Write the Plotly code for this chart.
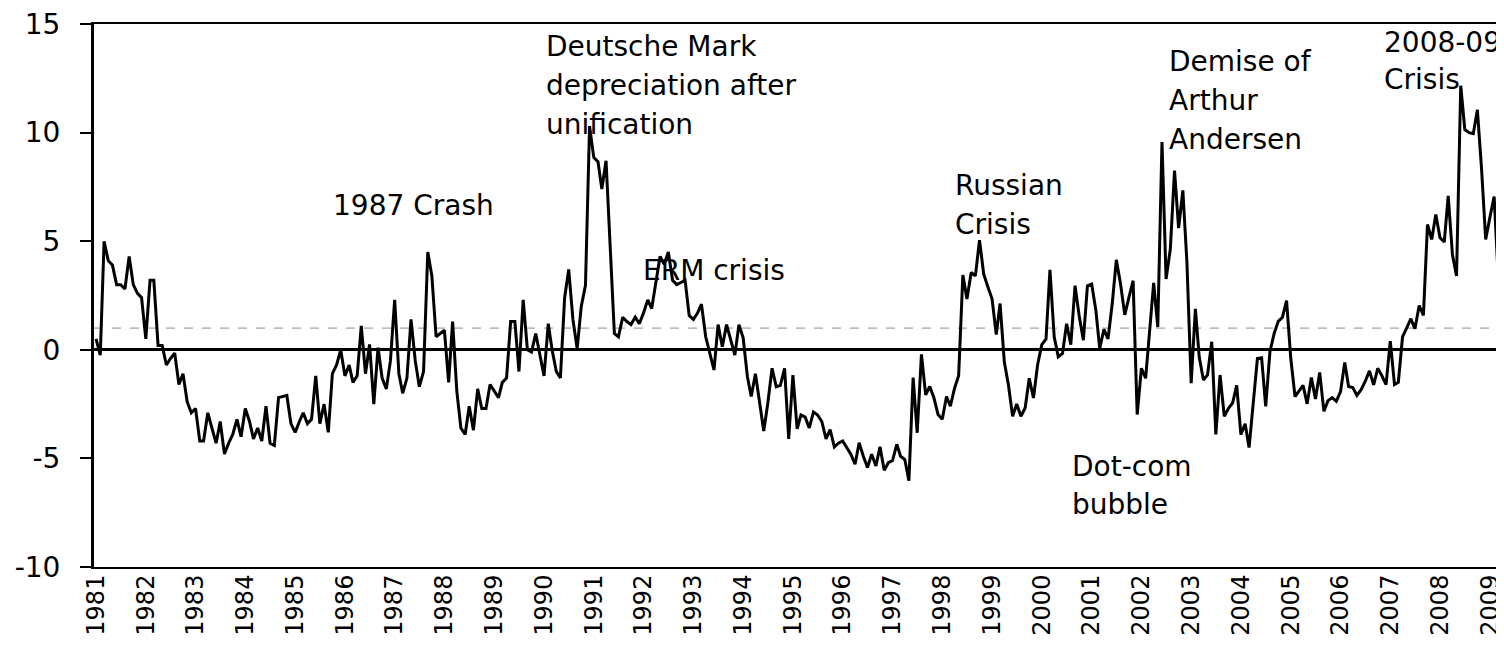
import pandas as pd
import plotly.graph_objects as go

# Monthly index values (Jan 1981 onwards)
values_1981_1985 = [0.5, -0.25, 5.0, 4.1, 3.9, 3.0, 3.0, 2.8, 4.3, 3.0, 2.6, 2.4,
                    0.5, 3.2, 3.2, 0.2, 0.2, -0.7, -0.4, -0.15, -1.6, -1.1, -2.4, -2.9,
                    -2.7, -4.2, -4.2, -2.9, -3.6, -4.3, -3.3, -4.8, -4.3, -3.9, -3.2, -4.0,
                    -2.7, -3.3, -4.1, -3.6, -4.2, -2.6, -4.3, -4.4, -2.2, -2.15, -2.1, -3.4,
                    -3.8, -3.3, -2.9, -3.4, -3.2, -1.2, -3.4, -2.5, -3.8, -1.1, -0.7, 0.0]
values_1986_1990 = [-1.2, -0.7, -1.5, -1.2, 1.1, -1.1, 0.25, -2.5, 0.1, -1.3, -1.8, -0.5,
                    2.3, -1.1, -2.0, -1.3, 1.4, -0.5, -1.7, -1.0, 4.5, 3.4, 0.6, 0.75,
                    0.9, -1.5, 1.3, -1.9, -3.6, -3.9, -2.6, -3.7, -1.8, -2.7, -2.7, -1.6,
                    -1.9, -2.2, -1.5, -1.3, 1.3, 1.3, -1.0, 2.3, 0.0, -0.1, 0.75, -0.15,
                    -1.2, 1.2, 0.0, -1.0, -1.3, 2.4, 3.7, 1.4, 0.05]
values_1990_1994 = [2.0, 2.97, 10.3, 8.85, 8.66, 7.4, 8.7, 4.7, 0.75, 0.6, 1.5, 1.3,
                    1.16, 1.5, 1.2, 1.7, 2.3, 1.9, 3.1, 4.3, 3.94, 4.5, 3.2, 3.0,
                    3.1, 3.2, 1.58, 1.4, 1.7, 2.1, 0.6, -0.1, -0.93, 1.16, 0.14, 1.16,
                    0.5, -0.24, 1.16, 0.55, -1.23, -2.15, -1.1, -2.45, -3.74, -2.45, -0.85, -1.7,
                    -1.64]
values_1994_1998 = [-0.85, -4.1, -1.16, -3.64, -3.0, -3.1, -3.6, -2.86, -3.0, -3.3, -4.1, -3.67,
                    -4.47, -4.3, -4.2, -4.5, -4.81, -5.27, -4.28, -4.9, -5.42, -4.81, -5.35, -4.47,
                    -5.55, -5.2, -5.1, -4.35, -4.9, -5.05, -6.03, -1.28, -3.82, -0.21, -2.07, -1.69,
                    -2.22, -2.98, -3.2, -2.15, -2.6, -1.77, -1.19, 3.44, 2.34, 3.56, 3.4]
values_1998_2002 = [5.05, 3.48, 2.9, 2.35, 0.7, 2.13, -0.55, -1.61, -3.06, -2.5, -3.06, -2.68,
                    -1.31, -2.22, -0.7, 0.24, 0.49, 3.68, 0.6, -0.32, -0.17, 1.2, 0.24, 2.95,
                    1.58, 0.44, 2.95, 3.03, 1.81, 0.06, 0.94, 0.5, 2.13, 4.14, 3.03, 1.61,
                    2.4, 3.18, -2.98, -0.85, -1.31, 0.9, 3.08]
values_2002_2006 = [1.05, 9.57, 3.26, 4.63, 8.25, 5.6, 7.34, 4.02, -1.54, 1.89, -0.32, -1.39,
                    -1.16, 0.37, -3.9, -1.16, -3.06, -2.7, -2.45, -1.64, -3.9, -3.41, -4.5, -2.45,
                    -0.4, -0.37, -2.6, -0.09, 0.75, 1.31, 1.5, 2.27, -0.4, -2.15, -1.92, -1.64,
                    -2.49, -1.28, -2.26, -1.04, -2.83, -2.34, -2.2, -2.37, -1.92, -0.58, -1.69, -1.74,
                    -2.1, -1.84, -1.46, -0.97, -1.61]
values_2006_2009 = [-0.85, -1.2, -1.6, 0.4, -1.6, -1.5, 0.6, 1.0, 1.43, 0.97, 2.04, 1.58,
                    5.77, 5.08, 6.23, 5.16, 4.96, 7.09, 4.39, 3.4, 12.16, 10.14, 10.0, 9.95,
                    11.05, 8.3, 5.08, 6.1, 7.06, 3.56]

series_start = "1981-01-01"
x_range = ["1980-12-17", "2009-03-16"]
threshold_level = 1.0

years = list(range(1981, 2010))
year_labels = [str(y) for y in years]
y_tick_values = [-10, -5, 0, 5, 10, 15]
y_tick_labels = ["-10", "-5", "0", "5", "10", "15"]

# Event labels (one entry per text line) and their paper positions
event_lines = ["1987 Crash",
               "Deutsche Mark", "depreciation after", "unification",
               "ERM crisis",
               "Russian", "Crisis",
               "Demise of", "Arthur", "Andersen",
               "Dot-com", "bubble",
               "2008-09", "Crisis"]
event_x = [0.1688,
           0.3199, 0.3199, 0.3199,
           0.3887,
           0.6106, 0.6106,
           0.7631, 0.7631, 0.7631,
           0.6943, 0.6943,
           0.9163, 0.9163]
event_y = [0.6654,
           0.958, 0.8867, 0.8154,
           0.5466,
           0.702, 0.6307,
           0.9305, 0.8592, 0.7879,
           0.1846, 0.1152,
           0.9653, 0.8976]

values = (values_1981_1985 + values_1986_1990 + values_1990_1994 + values_1994_1998
          + values_1998_2002 + values_2002_2006 + values_2006_2009)
dates = pd.date_range(series_start, periods=len(values), freq="MS")

FONT = "DejaVu Sans"

fig = go.Figure()
fig.add_trace(go.Scatter(x=dates, y=values, mode="lines",
                         line=dict(color="black", width=3),
                         hoverinfo="skip"))

fig.add_shape(type="line", xref="paper", x0=0, x1=1, yref="y",
              y0=threshold_level, y1=threshold_level,
              line=dict(color="#8c8c8c", width=1, dash="dash"), layer="below")

for txt, ax, ay in zip(event_lines, event_x, event_y):
    fig.add_annotation(text=txt, xref="paper", yref="paper", x=ax, y=ay,
                       xanchor="left", yanchor="middle", showarrow=False,
                       font=dict(family=FONT, size=28, color="black"))

# The page body keeps an 8 px margin, so the figure is sized to fit the window exactly
fig.update_layout(
    width=1496, height=633,
    margin=dict(l=86, r=0, t=12, b=74),
    plot_bgcolor="white", paper_bgcolor="white",
    showlegend=False,
    xaxis=dict(type="date", range=x_range,
               tickvals=[f"{y}-01-01" for y in years], ticktext=year_labels,
               tickangle=-90, ticks="", showline=True, linecolor="black",
               linewidth=2, mirror=True, showgrid=False, zeroline=False,
               tickfont=dict(family=FONT, size=24, color="black"),
               ticklabelstandoff=-4, ticklabeloverflow="allow"),
    yaxis=dict(range=[-10, 15], tickvals=y_tick_values, ticktext=y_tick_labels,
               ticks="outside", ticklen=11, tickwidth=2, tickcolor="black",
               showline=True, linewidth=3, linecolor="black", showgrid=False,
               zeroline=True, zerolinecolor="black", zerolinewidth=2.5,
               tickfont=dict(family=FONT, size=28, color="black"),
               ticklabelstandoff=14, ticklabeloverflow="allow"),
)

fig.write_html("out.html")
